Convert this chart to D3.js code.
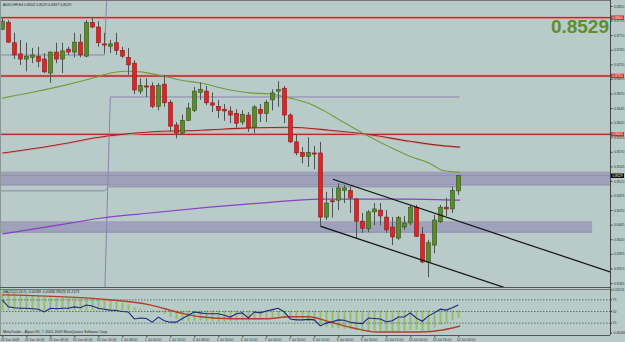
<!DOCTYPE html>
<html>
<head>
<meta charset="utf-8">
<script src="https://cdnjs.cloudflare.com/ajax/libs/d3/7.8.5/d3.min.js"></script>
<style>
  html, body { margin: 0; padding: 0; background: #b8cbc8; }
  svg { display: block; font-family: "Liberation Sans", Arial, sans-serif; }
  .axis path, .axis line { stroke: #444; }
  .axis text { fill: #333; font-size: 3.4px; }
</style>
</head>
<body>
<div id="chart-container"></div>
<script>
// AUDCHF H4 candles, one per bar (index 0 = 26 Jun 2009)
const opens = [
  0.8780,0.8792,0.8757,0.8738,0.8729,0.8732,0.8734,0.8729,0.8705,0.8741,
  0.8729,0.8746,0.8741,0.8758,0.8734,0.8792,0.8784,0.8755,0.8751,0.8757,
  0.8744,0.8732,0.8722,0.8674,0.8683,0.8683,0.8648,0.8686,0.8655,0.8616,
  0.8602,0.8624,0.8641,0.8672,0.8674,0.8654,0.8648,0.8643,0.8640,0.8636,
  0.8621,0.8633,0.8612,0.8643,0.8636,0.8659,0.8674,0.8679,0.8633,0.8587,
  0.8569,0.8562,0.8568,0.8568,0.8458,0.8486,0.8487,0.8504,0.8504,0.8489,
  0.8451,0.8438,0.8467,0.8470,0.8458,0.8441,0.8422,0.8441,0.8448,0.8475,
  0.8429,0.8381,0.8410,0.8450,0.8475,0.8472,0.8503];
const highs = [
  0.8799,0.8796,0.8774,0.8762,0.8757,0.8748,0.8750,0.8739,0.8742,0.8757,
  0.8757,0.8750,0.8774,0.8772,0.8796,0.8801,0.8794,0.8774,0.8762,0.8774,
  0.8750,0.8748,0.8727,0.8696,0.8696,0.8689,0.8688,0.8702,0.8659,0.8621,
  0.8634,0.8654,0.8681,0.8689,0.8683,0.8672,0.8659,0.8652,0.8648,0.8643,
  0.8641,0.8638,0.8650,0.8652,0.8659,0.8677,0.8691,0.8683,0.8636,0.8599,
  0.8578,0.8595,0.8580,0.8587,0.8501,0.8508,0.8516,0.8513,0.8510,0.8491,
  0.8465,0.8470,0.8482,0.8482,0.8470,0.8458,0.8460,0.8460,0.8479,0.8479,
  0.8441,0.8419,0.8462,0.8479,0.8491,0.8510,0.8530];
const lows = [
  0.8779,0.8757,0.8729,0.8719,0.8708,0.8722,0.8715,0.8705,0.8688,0.8722,
  0.8705,0.8736,0.8732,0.8732,0.8732,0.8782,0.8750,0.8739,0.8739,0.8736,
  0.8731,0.8702,0.8669,0.8669,0.8664,0.8645,0.8641,0.8647,0.8604,0.8593,
  0.8600,0.8623,0.8638,0.8659,0.8650,0.8638,0.8628,0.8623,0.8619,0.8611,
  0.8616,0.8604,0.8602,0.8621,0.8621,0.8641,0.8647,0.8619,0.8585,0.8564,
  0.8550,0.8544,0.8540,0.8441,0.8453,0.8457,0.8470,0.8482,0.8465,0.8422,
  0.8431,0.8432,0.8444,0.8444,0.8431,0.8410,0.8419,0.8436,0.8444,0.8424,
  0.8379,0.8355,0.8396,0.8448,0.8460,0.8465,0.8496];
const closes = [
  0.8794,0.8758,0.8736,0.8729,0.8734,0.8736,0.8725,0.8707,0.8741,0.8729,
  0.8743,0.8741,0.8758,0.8736,0.8792,0.8784,0.8757,0.8753,0.8755,0.8744,
  0.8734,0.8719,0.8676,0.8684,0.8681,0.8648,0.8684,0.8654,0.8614,0.8602,
  0.8624,0.8645,0.8674,0.8677,0.8654,0.8650,0.8641,0.8640,0.8633,0.8619,
  0.8634,0.8611,0.8647,0.8636,0.8655,0.8671,0.8677,0.8633,0.8587,0.8568,
  0.8562,0.8569,0.8566,0.8458,0.8482,0.8485,0.8508,0.8508,0.8491,0.8451,
  0.8439,0.8467,0.8472,0.8460,0.8436,0.8424,0.8457,0.8448,0.8475,0.8425,
  0.8381,0.8414,0.8453,0.8475,0.8472,0.8504,0.8529];

// moving averages (bar index, price)
const maGreenIdx = [0, 5, 10, 15, 18, 20.5, 23, 26.3, 29.6, 33, 38, 41.3, 44.6, 48, 51.8, 53.5, 56.3, 60.8, 64.6, 68, 71.3, 73.4, 76.3];
const maGreen = [0.8662, 0.8672, 0.8683, 0.8696, 0.8705, 0.8708, 0.8707, 0.8701, 0.8693, 0.8688, 0.8676, 0.8671, 0.8669, 0.8662, 0.8650, 0.8641, 0.8624, 0.8598, 0.8578, 0.8562, 0.8550, 0.8538, 0.8535];
const maRedIdx = [0, 8, 17.5, 24.6, 33, 41.3, 48, 54.6, 60.8, 68, 73, 76.3];
const maRed = [0.8568, 0.8580, 0.8597, 0.8604, 0.8607, 0.8611, 0.8612, 0.8607, 0.8600, 0.8588, 0.8581, 0.8578];
const maPurpleIdx = [0, 8, 16.3, 24.6, 34.6, 43, 53, 59.6, 68, 76.3];
const maPurple = [0.8429, 0.8442, 0.8456, 0.8465, 0.8475, 0.8482, 0.8489, 0.8489, 0.8489, 0.8487];

// monthly level lines (June value, July value), month change between bars 17 and 18
const levelJune = [0.8736, 0.8300, 0.8503];
const levelJuly = [0.8900, 0.8664, 0.8510];

// horizontal levels and zones [top, bottom, last bar index reached]
const redLevels = [0.8800, 0.8700, 0.8600];
const zones = [[0.8536, 0.8513, 101.3], [0.8451, 0.8432, 98.3]];
const lastPrice = 0.8529;

// channel lines (bar index, price)
const channelUpper = [[55.1, 0.8523], [101.3, 0.8364]];
const channelLower = [[53.1, 0.8442], [101.3, 0.8277]];

const priceTicks = [0.8820,0.8795,0.8770,0.8745,0.8720,0.8695,0.8670,0.8645,0.8620,0.8595,
  0.8570,0.8545,0.8520,0.8495,0.8470,0.8445,0.8420,0.8395,0.8370,0.8345];

const timeLabels = ["26 Jun 2009","26 Jun 20:00","29 Jun 08:00","30 Jun 00:00","30 Jun 16:00",
  "1 Jul 08:00","2 Jul 00:00","2 Jul 16:00","3 Jul 08:00","5 Jul 20:00","6 Jul 12:00",
  "7 Jul 04:00","7 Jul 20:00","8 Jul 12:00","9 Jul 04:00","9 Jul 20:00","10 Jul 12:00",
  "13 Jul 00:00","13 Jul 16:00","14 Jul 08:00"];

// indicator window
const macdHist = [
  0.0046,0.0045,0.0043,0.0041,0.0039,0.0038,0.0036,0.0033,0.0033,0.0032,
  0.0032,0.0031,0.0031,0.0029,0.0032,0.0032,0.0029,0.0026,0.0024,0.0022,
  0.0019,0.0015,0.0008,0.0004,0.0001,-0.0005,-0.0006,-0.0009,-0.0016,-0.0022,
  -0.0026,-0.0027,-0.0026,-0.0025,-0.0026,-0.0027,-0.0028,-0.0028,-0.0027,-0.0026,
  -0.0025,-0.0026,-0.0024,-0.0023,-0.0021,-0.0018,-0.0015,-0.0016,-0.0020,-0.0024,
  -0.0026,-0.0027,-0.0028,-0.0036,-0.0041,-0.0044,-0.0045,-0.0046,-0.0047,-0.0050,
  -0.0053,-0.0053,-0.0052,-0.0052,-0.0053,-0.0055,-0.0053,-0.0052,-0.0048,-0.0048,
  -0.0052,-0.0050,-0.0043,-0.0036,-0.0031,-0.0024,-0.0019];
const signalIdx = [0, 16, 24.6, 29.6, 33, 38.5, 44, 48, 51, 54.6, 58.5, 62.4, 69.6, 73.4, 76.3];
const signal = [0.0039, 0.0029, 0.0014, -0.0006, -0.0016, -0.0021, -0.0021, -0.0016, -0.0016, -0.0029, -0.0044, -0.0054, -0.0054, -0.0049, -0.0039];
const rsi = [
  75,60,58,57,57,56,55,49,57,56,
  57,57,60,58,64,62,57,55,53,52,
  50,49,34,36,35,27,38,30,27,27,
  35,42,49,47,45,45,45,42,38,45,
  47,36,49,47,51,54,57,49,34,32,
  32,33,32,19,25,28,32,31,27,25,
  24,36,35,34,28,30,38,38,47,36,
  29,40,47,55,53,58,64];
const rsiLevels = [75, 50, 25];
const macdRange = [-0.00566, 0.00511];

const W = 625, H = 342;
const plotRight = 610;
const tiny = 3.4;

const svg = d3.select("#chart-container").append("svg")
  .attr("width", W).attr("height", H);

svg.append("rect").attr("width", W).attr("height", H).attr("fill", "#b8cbc8");

const x = d3.scaleLinear().domain([0, 76]).range([2.3, 458.3]);
const y = d3.scaleLinear().domain([0.8345, 0.8820]).range([283, 6]);
const yMacd = d3.scaleLinear().domain(macdRange).range([333, 290]);
const yRsi = d3.scaleLinear().domain([0, 100]).range([334.7, 288.3]);

svg.append("clipPath").attr("id", "main-clip")
  .append("rect").attr("x", 1).attr("y", 1).attr("width", plotRight - 1).attr("height", 286);
svg.append("clipPath").attr("id", "sub-clip")
  .append("rect").attr("x", 1).attr("y", 289).attr("width", plotRight - 1).attr("height", 46);

const main = svg.append("g").attr("clip-path", "url(#main-clip)");

// zones
main.selectAll(".zone").data(zones).enter().append("rect")
  .attr("x", 0)
  .attr("y", d => y(d[0]))
  .attr("width", d => x(d[2]))
  .attr("height", d => y(d[1]) - y(d[0]))
  .attr("fill", "#9fa0b9");
main.selectAll(".zone-edge").data(zones).enter().append("line")
  .attr("x1", 0).attr("x2", d => x(d[2]))
  .attr("y1", d => y(d[1])).attr("y2", d => y(d[1]))
  .attr("stroke", "#8f8eae").attr("stroke-width", 1);

// bid line
main.append("line")
  .attr("x1", 0).attr("x2", plotRight)
  .attr("y1", y(lastPrice)).attr("y2", y(lastPrice))
  .attr("stroke", "#8a8aa6").attr("stroke-width", 0.8);

// red horizontal levels
redLevels.forEach(p => {
  main.append("line").attr("x1", 0).attr("x2", plotRight)
    .attr("y1", y(p)).attr("y2", y(p))
    .attr("stroke", "#dca3a3").attr("stroke-width", 3);
  main.append("line").attr("x1", 0).attr("x2", plotRight)
    .attr("y1", y(p)).attr("y2", y(p))
    .attr("stroke", "#b32c2c").attr("stroke-width", 1.3);
});

// monthly step lines
levelJune.forEach((v, k) => {
  const pts = [[-1, v], [17.0, v], [17.7 + (k === 1 ? 0.3 : 0), levelJuly[k]], [76.2, levelJuly[k]]];
  main.append("path")
    .attr("d", d3.line().x(d => x(d[0])).y(d => y(d[1]))(pts))
    .attr("fill", "none").attr("stroke", "#8c82b2").attr("stroke-width", 1);
});

// moving averages
const maLine = d3.line().curve(d3.curveMonotoneX).x(d => x(d[0])).y(d => y(d[1]));
main.append("path")
  .attr("d", maLine(maRedIdx.map((d, i) => [d, maRed[i]])))
  .attr("transform", "translate(0,1)")
  .attr("fill", "none").attr("stroke", "#dba2a2").attr("stroke-width", 1);
main.append("path")
  .attr("d", maLine(maRedIdx.map((d, i) => [d, maRed[i]])))
  .attr("fill", "none").attr("stroke", "#9e2424").attr("stroke-width", 1.1);
main.append("path")
  .attr("d", maLine(maPurpleIdx.map((d, i) => [d, maPurple[i]])))
  .attr("fill", "none").attr("stroke", "#8a3fc4").attr("stroke-width", 1.2);
main.append("path")
  .attr("d", maLine(maGreenIdx.map((d, i) => [d, maGreen[i]])))
  .attr("fill", "none").attr("stroke", "#759a3a").attr("stroke-width", 1.1);

// candles
const idx = d3.range(opens.length);
main.selectAll(".wick").data(idx).enter().append("line")
  .attr("x1", i => Math.round(x(i)) + 0.5).attr("x2", i => Math.round(x(i)) + 0.5)
  .attr("y1", i => y(highs[i])).attr("y2", i => y(lows[i]))
  .attr("stroke", "#4d5454").attr("stroke-width", 1);
main.selectAll(".body").data(idx).enter().append("rect")
  .attr("x", i => Math.round(x(i)) - 1.5)
  .attr("y", i => y(Math.max(opens[i], closes[i])))
  .attr("width", 4)
  .attr("height", i => Math.max(1, Math.abs(y(opens[i]) - y(closes[i]))))
  .attr("fill", i => closes[i] >= opens[i] ? "#5b8a26" : "#e02424")
  .attr("stroke", i => closes[i] >= opens[i] ? "#34531a" : "#8a1c1c")
  .attr("stroke-width", 0.6);

// channel
[channelUpper, channelLower].forEach(c => {
  main.append("line")
    .attr("x1", x(c[0][0])).attr("y1", y(c[0][1]))
    .attr("x2", x(c[1][0])).attr("y2", y(c[1][1]))
    .attr("stroke", "#111").attr("stroke-width", 1.2);
});

// big price text
svg.append("text")
  .attr("x", 609).attr("y", 33)
  .attr("text-anchor", "end")
  .attr("font-size", 19).attr("font-weight", "bold")
  .attr("fill", "#628c30")
  .text(d3.format(".4f")(lastPrice));

// title
svg.append("text")
  .attr("x", 3).attr("y", 5.5)
  .attr("font-size", 3.6).attr("fill", "#222")
  .text("AUDCHF,H4  0.8502 0.8529 0.8497 0.8529");

// frames
svg.append("line").attr("x1", 0).attr("x2", plotRight).attr("y1", 0.5).attr("y2", 0.5).attr("stroke", "#777");
svg.append("line").attr("x1", 0.5).attr("x2", 0.5).attr("y1", 0).attr("y2", 335).attr("stroke", "#8a9896");
svg.append("line").attr("x1", 0).attr("x2", plotRight).attr("y1", 287.5).attr("y2", 287.5).attr("stroke", "#555");
svg.append("line").attr("x1", 0).attr("x2", plotRight).attr("y1", 289.5).attr("y2", 289.5).attr("stroke", "#777");

// price axis
const yAxis = svg.append("g").attr("class", "axis")
  .attr("transform", `translate(${plotRight + 0.5},0)`)
  .call(d3.axisRight(y).tickValues(priceTicks).tickSize(2).tickPadding(1.5).tickFormat(d3.format(".4f")));
yAxis.select(".domain").attr("d", "M0,0V335");

// red and black price labels
const tagData = redLevels.map(p => ({ p, c: "#c8302c" })).concat([{ p: lastPrice, c: "#000" }]);
tagData.forEach(t => {
  svg.append("rect").attr("x", plotRight + 1).attr("y", y(t.p) - 2.2)
    .attr("width", 13).attr("height", 4.4).attr("fill", t.c);
  svg.append("text").attr("x", plotRight + 2.5).attr("y", y(t.p) + 1.2)
    .attr("font-size", tiny).attr("fill", "#fff").text(d3.format(".4f")(t.p));
});

// indicator window
const sub = svg.append("g").attr("clip-path", "url(#sub-clip)");
sub.selectAll(".hist").data(idx).enter().append("rect")
  .attr("x", i => Math.round(x(i)) - 0.5)
  .attr("y", i => Math.min(yMacd(macdHist[i]), yMacd(0)))
  .attr("width", 2)
  .attr("height", i => Math.abs(yMacd(macdHist[i]) - yMacd(0)))
  .attr("fill", "#93bf6a");
sub.selectAll(".lvl").data(rsiLevels).enter().append("line")
  .attr("x1", 0).attr("x2", plotRight)
  .attr("y1", d => yRsi(d)).attr("y2", d => yRsi(d))
  .attr("stroke", "#3a4a4a").attr("stroke-width", 0.7).attr("stroke-dasharray", "1.5,1.5");
sub.append("path")
  .attr("d", d3.line().curve(d3.curveMonotoneX).x(d => x(d[0])).y(d => yMacd(d[1]))(signalIdx.map((d, i) => [d, signal[i]])))
  .attr("fill", "none").attr("stroke", "#b0402c").attr("stroke-width", 1.4);
sub.append("path")
  .attr("d", d3.line().x((d, i) => x(i)).y(d => yRsi(d))(rsi))
  .attr("fill", "none").attr("stroke", "#1b2680").attr("stroke-width", 1.1);

svg.append("text").attr("x", 3).attr("y", 293).attr("font-size", 3.4).attr("fill", "#222")
  .text("MACD(12,26,9) -0.00188 -0.00366  RSI(9) 61.2573");
svg.append("text").attr("x", 3).attr("y", 333).attr("font-size", 3.6).attr("fill", "#222")
  .text("MetaTrader - Alpari UK, \u00a9 2001-2009 MetaQuotes Software Corp.");

// indicator scale labels
const subTicks = [[yMacd(macdRange[1]), "0.00511"]]
  .concat(rsiLevels.map(v => [yRsi(v), String(v)]))
  .concat([[yMacd(macdRange[0]), "-0.00566"]]);
subTicks.forEach(t => {
  svg.append("line").attr("x1", plotRight).attr("x2", plotRight + 2)
    .attr("y1", t[0]).attr("y2", t[0]).attr("stroke", "#444");
  svg.append("text").attr("x", plotRight + 2.5).attr("y", t[0] + 1.2)
    .attr("font-size", tiny).attr("fill", "#333").text(t[1]);
});

// time axis
svg.append("line").attr("x1", 0).attr("x2", plotRight).attr("y1", 335.5).attr("y2", 335.5).attr("stroke", "#555");
const xAxis = svg.append("g").attr("class", "axis")
  .attr("transform", "translate(0,335.5)")
  .call(d3.axisBottom(x).tickValues(timeLabels.map((d, i) => i * 4)).tickSize(2)
    .tickFormat((d, i) => timeLabels[i]));
xAxis.select(".domain").remove();
xAxis.selectAll("text").attr("text-anchor", "start").attr("dx", -2).attr("dy", 0).attr("y", 5);
</script>
</body>
</html>
